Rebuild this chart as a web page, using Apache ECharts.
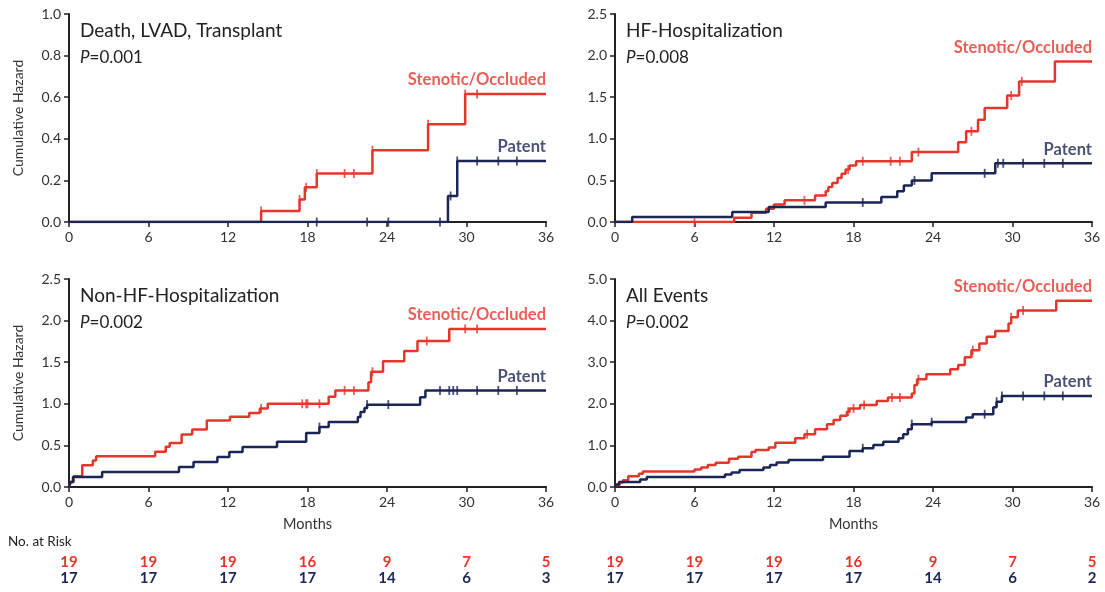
<!DOCTYPE html>
<html>
<head>
<meta charset="utf-8">
<script src="https://cdn.jsdelivr.net/npm/echarts@6/dist/echarts.min.js"></script>
<style>html,body{margin:0;background:#fff}#main{width:1105px;height:592px}</style>
</head>
<body>
<div id="main"></div>
<script>
// tick labels and number at risk
const months = [0, 6, 12, 18, 24, 30, 36];
const riskRedLeft = [19, 19, 19, 16, 9, 7, 5];
const riskBlueLeft = [17, 17, 17, 17, 14, 6, 3];
const riskRedRight = [19, 19, 19, 16, 9, 7, 5];
const riskBlueRight = [17, 17, 17, 17, 14, 6, 2];

// Death, LVAD, Transplant
const deathRedT = [0, 14.5, 17.4, 17.8, 18.7, 22.9, 27.1, 29.9];
const deathRedH = [0, 0.053, 0.108, 0.167, 0.233, 0.345, 0.47, 0.615];
const deathRedCens = [14.5, 17.4, 17.9, 18.7, 20.8, 21.5, 22.9, 27.1, 29.9, 30.8];
const deathBlueT = [0, 28.6, 29.3];
const deathBlueH = [0, 0.125, 0.293];
const deathBlueCens = [18.7, 22.5, 24.1, 28.0, 28.8, 29.3, 30.8, 32.4, 33.8];

// HF-Hospitalization
const hfRedT = [0, 9.0, 10.3, 11.4, 12.0, 12.8, 15.1, 15.9, 16.1, 16.4, 16.8, 17.1, 17.4, 17.7, 18.2, 22.4, 25.9, 26.5, 27.4, 27.9, 29.6, 30.5, 33.2];
const hfRedH = [0, 0.05, 0.11, 0.16, 0.21, 0.26, 0.32, 0.37, 0.42, 0.47, 0.53, 0.58, 0.63, 0.68, 0.73, 0.84, 0.96, 1.09, 1.23, 1.37, 1.52, 1.69, 1.93];
const hfRedCens = [6.0, 14.3, 17.6, 18.7, 20.8, 21.5, 22.9, 26.9, 29.9, 30.7];
const hfBlueT = [0, 1.3, 8.85, 11.6, 15.9, 20.1, 21.3, 21.8, 22.4, 23.9, 28.7];
const hfBlueH = [0, 0.059, 0.12, 0.18, 0.235, 0.30, 0.37, 0.44, 0.50, 0.585, 0.705];
const hfBlueCens = [18.7, 22.6, 27.9, 28.9, 29.3, 30.8, 32.4, 33.8];

// Non-HF-Hospitalization
const nonRedT = [0, 0.15, 0.35, 1.0, 1.8, 2.05, 6.5, 7.3, 7.6, 8.5, 9.3, 10.4, 12.15, 13.6, 14.4, 15.0, 19.6, 20.1, 22.6, 22.8, 23.7, 25.3, 26.3, 28.7];
const nonRedH = [0, 0.06, 0.13, 0.26, 0.32, 0.37, 0.425, 0.485, 0.53, 0.63, 0.69, 0.80, 0.845, 0.89, 0.945, 1.0, 1.085, 1.16, 1.26, 1.385, 1.51, 1.635, 1.755, 1.90];
const nonRedCens = [14.5, 17.6, 17.9, 18.0, 18.9, 20.8, 21.5, 22.9, 27.0, 29.9, 30.8];
const nonBlueT = [0, 0.1, 0.3, 2.5, 8.3, 9.4, 11.2, 12.1, 13.1, 15.7, 17.9, 18.9, 19.6, 21.8, 22.0, 22.3, 22.5, 26.5, 26.9];
const nonBlueH = [0, 0.06, 0.12, 0.18, 0.24, 0.30, 0.36, 0.42, 0.48, 0.545, 0.65, 0.72, 0.78, 0.84, 0.90, 0.95, 0.99, 1.08, 1.16];
const nonBlueCens = [18.9, 22.5, 24.1, 28.0, 28.7, 29.0, 29.3, 30.8, 32.4, 33.8];

// All Events
const allRedT = [0, 0.15, 0.35, 0.6, 1.0, 1.8, 2.1, 6.0, 6.5, 7.0, 7.6, 8.6, 9.3, 10.3, 10.6, 11.6, 12.1, 13.6, 14.3, 15.1, 16.0, 16.5, 17.0, 17.5, 17.7, 18.5, 19.75, 20.6, 22.4, 22.6, 22.8, 23.5, 25.3, 25.9, 26.4, 26.9, 27.5, 28.05, 28.7, 29.7, 29.9, 30.4, 33.3];
const allRedH = [0, 0.05, 0.11, 0.16, 0.26, 0.32, 0.37, 0.42, 0.47, 0.53, 0.58, 0.68, 0.73, 0.84, 0.89, 0.95, 1.065, 1.17, 1.27, 1.39, 1.51, 1.61, 1.71, 1.81, 1.89, 1.97, 2.07, 2.15, 2.25, 2.45, 2.59, 2.71, 2.83, 2.93, 3.12, 3.29, 3.45, 3.61, 3.75, 3.93, 4.08, 4.24, 4.48];
const allRedCens = [14.5, 17.6, 18.0, 18.8, 20.9, 21.5, 22.9, 27.0, 29.9, 30.8];
const allBlueT = [0, 0.1, 0.3, 1.9, 2.4, 8.3, 8.8, 9.4, 11.2, 11.7, 12.2, 13.1, 15.7, 17.7, 18.7, 19.5, 20.25, 21.4, 21.75, 22.1, 22.4, 23.9, 26.5, 27.0, 28.55, 28.8, 29.2];
const allBlueH = [0, 0.06, 0.12, 0.18, 0.24, 0.30, 0.35, 0.41, 0.47, 0.53, 0.59, 0.65, 0.73, 0.865, 0.93, 1.01, 1.09, 1.17, 1.27, 1.39, 1.51, 1.56, 1.67, 1.75, 1.92, 2.05, 2.19];
const allBlueCens = [18.7, 22.4, 23.9, 27.9, 28.8, 29.2, 30.8, 32.4, 33.8];

const RED = '#e6362c';
const NAVY = '#1c2656';
const FONT = 'Lato, "Open Sans", sans-serif';
const NARROW = '"Liberation Sans Narrow", Lato, sans-serif';
const END = 36;

const panels = [
    {title: 'Death, LVAD, Transplant', p: '0.001', yMax: 1, yStep: 0.2, left: 69, top: 14,
        red: [deathRedT, deathRedH, deathRedCens], blue: [deathBlueT, deathBlueH, deathBlueCens]},
    {title: 'HF-Hospitalization', p: '0.008', yMax: 2.5, yStep: 0.5, left: 615, top: 14,
        red: [hfRedT, hfRedH, hfRedCens], blue: [hfBlueT, hfBlueH, hfBlueCens]},
    {title: 'Non-HF-Hospitalization', p: '0.002', yMax: 2.5, yStep: 0.5, left: 69, top: 279,
        red: [nonRedT, nonRedH, nonRedCens], blue: [nonBlueT, nonBlueH, nonBlueCens]},
    {title: 'All Events', p: '0.002', yMax: 5, yStep: 1, left: 615, top: 279,
        red: [allRedT, allRedH, allRedCens], blue: [allBlueT, allBlueH, allBlueCens]}
];

// hazard value at time t (step function)
function hazardAt(T, H, t) {
    let v = H[0];
    for (let i = 0; i < T.length; i++) if (T[i] <= t) v = H[i];
    return v;
}

let grid = [], xAxis = [], yAxis = [], series = [], title = [];

panels.forEach((p, i) => {
    const bottomRow = i >= 2, leftCol = i % 2 === 0;
    grid.push({left: p.left, top: p.top, width: 477, height: 208});
    xAxis.push({
        type: 'value', gridIndex: i, min: 0, max: 36, interval: 6,
        name: bottomRow ? 'Months' : '', nameLocation: 'middle', nameGap: 30,
        nameTextStyle: {color: '#333', fontSize: 14.5, fontFamily: FONT},
        axisLine: {show: true, lineStyle: {color: '#222', width: 2}},
        axisTick: {show: true, length: 5, lineStyle: {color: '#222', width: 1.5}},
        axisLabel: {color: '#333', fontSize: 14, fontFamily: FONT, margin: 8},
        splitLine: {show: false}
    });
    yAxis.push({
        type: 'value', gridIndex: i, min: 0, max: p.yMax, interval: p.yStep,
        name: leftCol ? 'Cumulative Hazard' : '', nameLocation: 'middle', nameGap: 44,
        nameTextStyle: {color: '#333', fontSize: 14, fontFamily: FONT},
        axisLine: {show: true, lineStyle: {color: '#222', width: 2}},
        axisTick: {show: true, length: 5, lineStyle: {color: '#222', width: 1.5}},
        axisLabel: {color: '#333', fontSize: 14, fontFamily: FONT, margin: 8, formatter: v => v.toFixed(1)},
        splitLine: {show: false}
    });
    title.push({text: p.title, left: p.left + 11, top: p.top + 7, padding: 0,
        textStyle: {color: '#222', fontSize: 19, fontWeight: 'normal', fontFamily: FONT}});
    title.push({text: '{i|P}=' + p.p, left: p.left + 11, top: p.top + 35, padding: 0,
        textStyle: {color: '#222', fontSize: 17, fontWeight: 'normal', fontFamily: FONT,
            rich: {i: {fontStyle: 'italic', fontSize: 17, color: '#222', fontFamily: FONT}}}});

    [[p.red, RED, 'Stenotic/Occluded'], [p.blue, NAVY, 'Patent']].forEach(([g, color, name]) => {
        const [T, H, C] = g;
        let pts = T.map((t, k) => [t, H[k]]);
        pts.push([END, H[H.length - 1]]);
        series.push({
            type: 'line', step: 'end', xAxisIndex: i, yAxisIndex: i, showSymbol: false,
            data: pts, lineStyle: {color, width: 2.5}, itemStyle: {color}, z: 3, silent: true
        });
        series.push({
            type: 'scatter', xAxisIndex: i, yAxisIndex: i, symbol: 'rect', symbolSize: [1.8, 9],
            data: C.map(t => [t, hazardAt(T, H, t)]), itemStyle: {color}, z: 4, silent: true
        });
        series.push({
            type: 'scatter', xAxisIndex: i, yAxisIndex: i, symbolSize: 1,
            itemStyle: {color: 'transparent'}, silent: true,
            data: [[END, H[H.length - 1]]],
            label: {show: true, formatter: name, position: 'top', align: 'right', distance: 5,
                color, fontWeight: 'bold', fontSize: 16.5, fontFamily: FONT}
        });
    });
});

// number-at-risk rows as extra x axes under the bottom panels
[[2, riskRedLeft, riskBlueLeft], [3, riskRedRight, riskBlueRight]].forEach(([gi, r, b]) => {
    xAxis.push({
        type: 'value', gridIndex: gi, min: 0, max: 36, interval: 6, position: 'bottom', offset: 60,
        axisLine: {show: false}, axisTick: {show: false}, splitLine: {show: false},
        axisLabel: {
            margin: 7, showMinLabel: true, showMaxLabel: true,
            formatter: v => {
                const k = months.indexOf(v);
                return '{r|' + r[k] + '}\n{b|' + b[k] + '}';
            },
            rich: {
                r: {color: RED, fontWeight: 'bold', fontSize: 15, fontFamily: NARROW, lineHeight: 16},
                b: {color: NAVY, fontWeight: 'bold', fontSize: 15, fontFamily: NARROW, lineHeight: 16}
            }
        }
    });
});

let option = {
    backgroundColor: '#fff',
    animation: false,
    title, grid, xAxis, yAxis, series,
    graphic: [{type: 'text', left: 8, top: 535,
        style: {text: 'No. at Risk', fill: '#222', fontSize: 13.5, fontFamily: FONT}}]
};

let myChart = echarts.init(document.getElementById('main'));
myChart.setOption(option);
</script>
</body>
</html>
